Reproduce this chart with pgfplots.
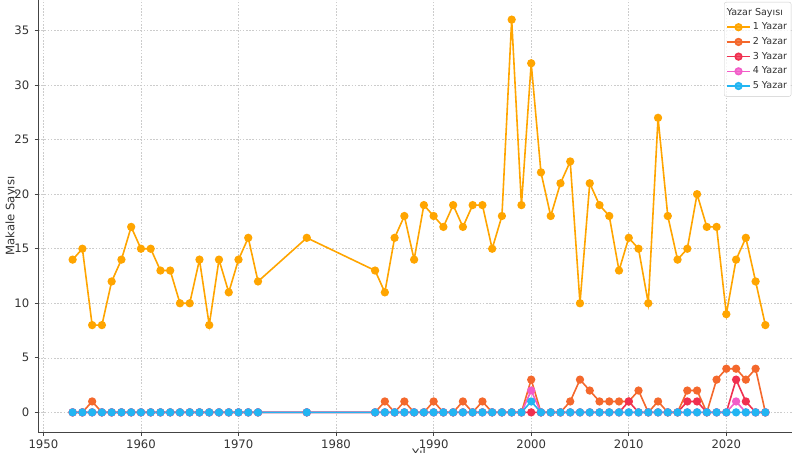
\documentclass[border=0pt]{standalone}
\usepackage{fontspec}
\setmainfont{DejaVu Sans}
\usepackage{pgfplots}
\pgfplotsset{compat=1.18}
\usepackage{pgfplotstable}
\definecolor{c1}{HTML}{FFA500}
\definecolor{c2}{HTML}{F4682C}
\definecolor{c3}{HTML}{F0304F}
\definecolor{c4}{HTML}{F25CC8}
\definecolor{c5}{HTML}{22B5F2}
\definecolor{spine}{HTML}{444444}
\definecolor{txt}{HTML}{333333}
\pgfplotstableread{
year y1 y2 y3 y4 y5
1953 14 0 0 0 0
1954 15 0 0 0 0
1955 8 1 0 0 0
1956 8 0 0 0 0
1957 12 0 0 0 0
1958 14 0 0 0 0
1959 17 0 0 0 0
1960 15 0 0 0 0
1961 15 0 0 0 0
1962 13 0 0 0 0
1963 13 0 0 0 0
1964 10 0 0 0 0
1965 10 0 0 0 0
1966 14 0 0 0 0
1967 8 0 0 0 0
1968 14 0 0 0 0
1969 11 0 0 0 0
1970 14 0 0 0 0
1971 16 0 0 0 0
1972 12 0 0 0 0
1977 16 0 0 0 0
1984 13 0 0 0 0
1985 11 1 0 0 0
1986 16 0 0 0 0
1987 18 1 0 0 0
1988 14 0 0 0 0
1989 19 0 0 0 0
1990 18 1 0 0 0
1991 17 0 0 0 0
1992 19 0 0 0 0
1993 17 1 0 0 0
1994 19 0 0 0 0
1995 19 1 0 0 0
1996 15 0 0 0 0
1997 18 0 0 0 0
1998 36 0 0 0 0
1999 19 0 0 0 0
2000 32 3 0 2 1
2001 22 0 0 0 0
2002 18 0 0 0 0
2003 21 0 0 0 0
2004 23 1 0 0 0
2005 10 3 0 0 0
2006 21 2 0 0 0
2007 19 1 0 0 0
2008 18 1 0 0 0
2009 13 1 0 0 0
2010 16 1 1 0 0
2011 15 2 0 0 0
2012 10 0 0 0 0
2013 27 1 0 0 0
2014 18 0 0 0 0
2015 14 0 0 0 0
2016 15 2 1 0 0
2017 20 2 1 0 0
2018 17 0 0 0 0
2019 17 3 0 0 0
2020 9 4 0 0 0
2021 14 4 3 1 0
2022 16 3 1 0 0
2023 12 4 0 0 0
2024 8 0 0 0 0
}\data
\begin{document}
\begin{tikzpicture}
\begin{axis}[
  at={(38bp,21bp)}, anchor=south west,
  scale only axis, width=762bp, height=432bp,
  xmin=1949.45, xmax=2027.55, ymin=-1.8, ymax=37.8,
  axis x line*=bottom, axis y line*=left,
  axis line style={-, color=spine, line width=1bp},
  xtick={1950,1960,...,2020}, ytick={0,5,...,35},
  tick align=outside, major tick length=3.5bp,
  tick style={color=spine, line width=0.8bp},
  grid=major,
  grid style={color=black!20, line width=0.6bp, dash pattern=on 1.6bp off 1.6bp},
  /pgf/number format/assume math mode=true,
  /pgf/number format/1000 sep={},
  ticklabel style={font=\fontsize{11.7}{13}\selectfont, text=txt},
  xticklabel style={inner sep=0pt, yshift=-4bp},
  yticklabel style={inner sep=0pt, xshift=-5bp},
  xlabel={Yıl}, ylabel={Makale Sayısı},
  label style={font=\fontsize{11.7}{13}\selectfont, text=txt},
  xlabel style={at={(axis description cs:0.5,-0.037)}, anchor=north, inner sep=0pt},
  ylabel style={at={(axis description cs:-0.0276,0.5)}, anchor=south, inner sep=0pt},
  legend style={at={(axis description cs:0.9003,0.9954)}, anchor=north west,
    font=\fontsize{9.6}{11}\selectfont, text=txt, draw=black!20, rounded corners=2bp,
    fill=white, fill opacity=0.8, text opacity=1, inner xsep=2bp, inner ysep=3bp,
    nodes={text height=7.2bp, text depth=2.2bp, inner ysep=2.65bp}},
  legend cell align=left,
  legend image code/.code={\draw[mark repeat=2,mark phase=2] plot coordinates {(0bp,0bp) (11.5bp,0bp) (23bp,0bp)};},
  every axis plot/.append style={line width=1.6bp, mark=*, mark size=3.3bp, mark options={solid}},
]
\addlegendimage{empty legend}
\addlegendentry{\hspace{-26bp}Yazar Sayısı}
\addplot[color=c1] table[x=year,y=y1] {\data};
\addlegendentry{1 Yazar}
\addplot[color=c2] table[x=year,y=y2] {\data};
\addlegendentry{2 Yazar}
\addplot[color=c3] table[x=year,y=y3] {\data};
\addlegendentry{3 Yazar}
\addplot[color=c4] table[x=year,y=y4] {\data};
\addlegendentry{4 Yazar}
\addplot[color=c5] table[x=year,y=y5] {\data};
\addlegendentry{5 Yazar}
\end{axis}
\pgfresetboundingbox
\useasboundingbox (0,0) rectangle (792bp,453bp);
\end{tikzpicture}
\end{document}
